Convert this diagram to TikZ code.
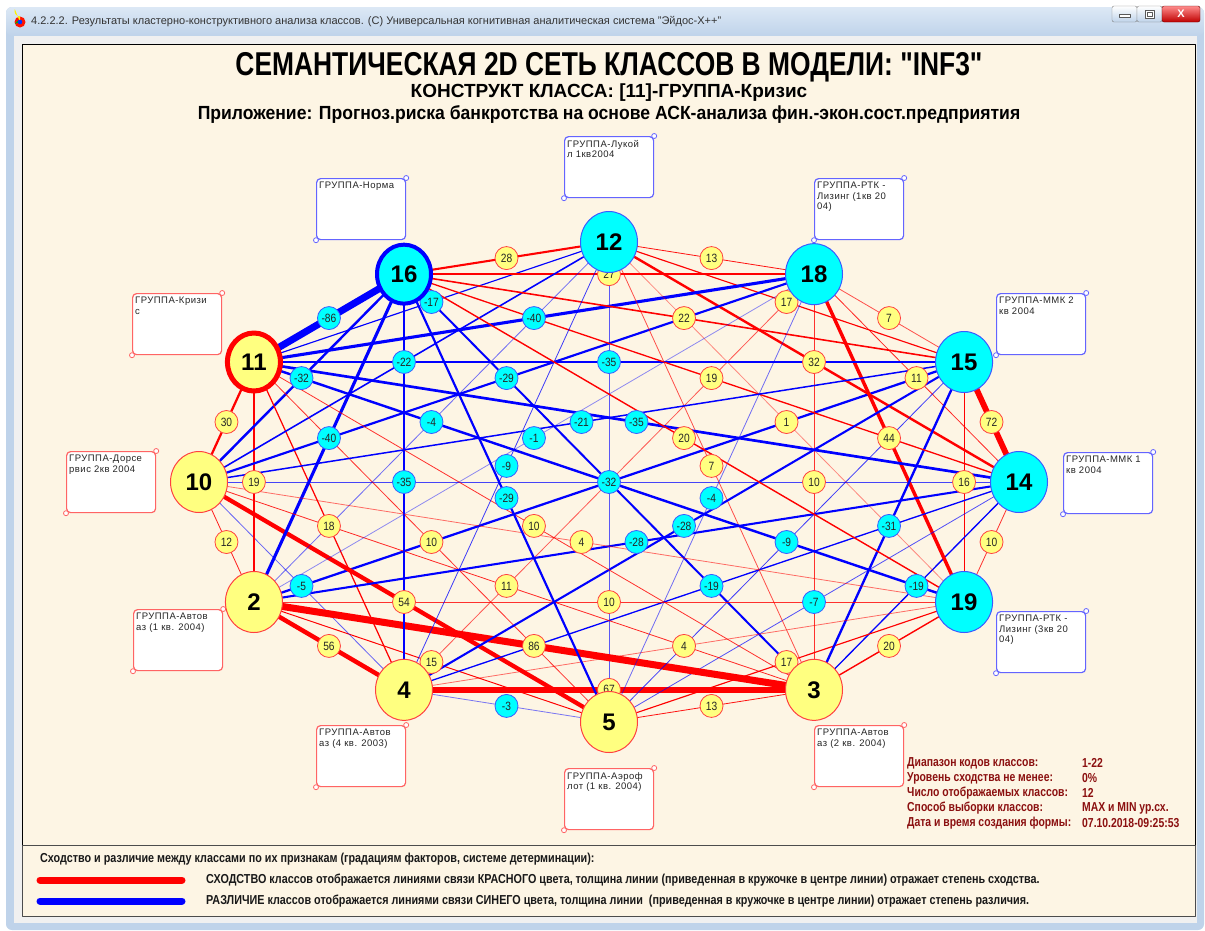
\documentclass[tikz,border=0pt]{standalone}
\usepackage{fontspec}
\setmainfont{Liberation Sans}
\newfontfamily\titlefont{Liberation Sans}[FakeStretch=0.8]
\newfontfamily\legfont{Liberation Sans}[FakeStretch=0.83]
\newfontfamily\condfont{Liberation Sans}[FakeStretch=0.85]
\newfontfamily\subfont{Liberation Sans}[FakeStretch=0.925]
\newfontfamily\boxfont{Liberation Sans}[LetterSpace=5]
\usetikzlibrary{shapes.geometric, calc}

\definecolor{panelbg}{HTML}{FDF5E4}
\definecolor{nodeyel}{HTML}{FFFF80}
\definecolor{nodecyan}{HTML}{00FFFF}
\definecolor{linkred}{HTML}{FF0000}
\definecolor{linkblue}{HTML}{0000FF}
\definecolor{rimred}{HTML}{FF4040}
\definecolor{rimblue}{HTML}{3A5BFF}
\definecolor{boxred}{HTML}{FF6464}
\definecolor{boxblue}{HTML}{6464FF}
\definecolor{infored}{HTML}{8B1010}
\definecolor{winframe}{HTML}{BFD3EA}
\definecolor{winlight}{HTML}{DCE8F5}
\definecolor{clientbg}{HTML}{F0F0F0}

\tikzset{
  cls/.style={ellipse, minimum width=57, minimum height=61, inner sep=0,
    line width=1, font=\fontsize{24}{24}\selectfont\bfseries},
  clsyel/.style={cls, fill=nodeyel, draw=rimred},
  clscyan/.style={cls, fill=nodecyan, draw=rimblue},
  lbl/.style={circle, minimum size=23, inner sep=0, line width=0.8,
    font=\condfont\fontsize{12}{12}\selectfont, text=black!85},
  boxframe/.style={draw, rounded corners=4, line width=1.2, fill=white,
    minimum width=89, minimum height=61, inner sep=0, anchor=north west},
  boxtext/.style={anchor=north west, inner sep=0, align=left,
    font=\boxfont\fontsize{9.5}{10.5}\selectfont, text=black!85},
  cornerdot/.style={circle, draw, fill=white, line width=0.8, minimum size=5, inner sep=0},
  infotxt/.style={anchor=west, inner sep=0, text=infored,
    font=\titlefont\bfseries\fontsize{13}{13}\selectfont},
  legendtxt/.style={anchor=west, inner sep=0, text=black!90,
    font=\legfont\bfseries\fontsize{13}{13}\selectfont}
}

% name, x, y, colour, text
\newcommand{\classbox}[5]{%
  \node[boxframe, draw=#4] (b#1) at (#2,#3) {};
  \node[boxtext] at ($(b#1.north west)+(3,4)$) {#5};
  \node[cornerdot, draw=#4] at (b#1.north east) {};
  \node[cornerdot, draw=#4] at (b#1.south west) {};
}

% pairs of classes and their similarity
\def\links{c12/c18/13, c18/c15/7, c15/c14/72, c14/c19/10, c19/c3/20, c3/c5/13,
  c5/c4/-3, c4/c2/56, c2/c10/12, c10/c11/30, c11/c16/-86, c16/c12/28,
  c12/c15/17, c18/c14/11, c15/c19/16, c14/c3/-19, c19/c5/17, c3/c4/67,
  c5/c2/15, c4/c10/-5, c2/c11/19, c10/c16/-32, c11/c12/-17, c16/c18/27,
  c12/c14/32, c18/c19/44, c15/c3/-31, c14/c5/-7, c19/c4/4, c3/c2/86,
  c5/c10/54, c4/c11/18, c2/c16/-40, c10/c12/-22, c11/c18/-40, c16/c15/22,
  c12/c19/1, c18/c3/10, c15/c5/-9, c14/c4/-19, c19/c2/10, c3/c10/11,
  c5/c11/10, c4/c16/-35, c2/c12/-4, c10/c18/-29, c11/c15/-35, c16/c14/19,
  c12/c3/7, c18/c5/-4, c15/c4/-28, c14/c2/-28, c19/c10/4, c3/c11/10,
  c5/c16/-29, c4/c12/-9, c2/c18/-1, c10/c15/-21, c11/c14/-35, c16/c19/20,
  c11/c19/-32}
% links through the centre, their circles hidden under -32
\def\crosslinks{c12/c5/-6, c14/c10/-8, c18/c4/6, c16/c3/-27, c15/c2/-30}

\begin{document}
\begin{tikzpicture}[x=1pt,y=-1pt,line cap=round,line join=round]
\useasboundingbox (0,0) rectangle (1205,930);

% window
\fill[white] (0,0) rectangle (1205,930);
\fill[winframe, rounded corners=6] (6,7) rectangle (1204,930);
\shade[top color=winlight, bottom color=winframe, rounded corners=6] (6,7) rectangle (1204,36);
\fill[clientbg] (14,36) rectangle (1197,923);
\filldraw[fill=panelbg, draw=black] (22,44) rectangle (1195,845);
\filldraw[fill=panelbg, draw=black!70] (22,845) rectangle (1195,916);

\fill[red!85!orange] (20,22) circle (5.5);
\fill[yellow] (20,22) -- ++(0,-5.5) arc (90:200:5.5) -- cycle;
\fill[green!70!black] (20,22) -- ++(-5.2,1.9) arc (200:280:5.5) -- cycle;
\fill[blue!80!cyan] (20,22) circle (2.3);
\node[anchor=west, inner sep=0, font=\fontsize{11}{11}\selectfont, text=black!80] (wintitle) at (31,22)
  {4.2.2.2. Результаты кластерно-конструктивного анализа классов. (С) Универсальная когнитивная аналитическая система "Эйдос-Х++"};

\shadedraw[top color=white, bottom color=winframe, draw=gray, rounded corners=2] (1112,6) rectangle (1137,22);
\shadedraw[top color=white, bottom color=winframe, draw=gray, rounded corners=2] (1137,6) rectangle (1162,22);
\shadedraw[top color=red!45!white, bottom color=red!75!black, draw=red!40!black, rounded corners=2] (1162,6) rectangle (1200,22);
\filldraw[fill=white, draw=gray!70!black] (1119,14) rectangle (1130,17);
\filldraw[fill=white, draw=gray!70!black] (1145,10) rectangle (1154,18);
\draw[gray!70!black] (1147,12) rectangle (1152,16);
\node[font=\bfseries\fontsize{11}{11}\selectfont, text=white] (closex) at (1181,14) {X};

% titles
\node[font=\titlefont\bfseries\fontsize{33}{33}\selectfont] (title) at (609,67)
  {СЕМАНТИЧЕСКАЯ 2D СЕТЬ КЛАССОВ В МОДЕЛИ: "INF3"};
\node[font=\bfseries\fontsize{19}{19}\selectfont] (construct) at (609,93)
  {КОНСТРУКТ КЛАССА: [11]-ГРУППА-Кризис};
\node[font=\subfont\bfseries\fontsize{19}{19}\selectfont] (appl) at (609,114)
  {Приложение: Прогноз.риска банкротства на основе АСК-анализа фин.-экон.сост.предприятия};

% classes on an ellipse
\foreach \n [count=\k from 0] in {12,18,15,14,19,3,5,4,2,10,11,16}
  \coordinate (c\n) at ({609+410*cos(90-30*\k)}, {482-240*sin(90-30*\k)});

% name boxes
\classbox{12}{564}{136}{boxblue}{ГРУППА-Лукой\\л 1кв2004}
\classbox{16}{316}{178}{boxblue}{ГРУППА-Норма}
\classbox{18}{814}{178}{boxblue}{ГРУППА-РТК -\\Лизинг (1кв 20\\04)}
\classbox{15}{996}{293}{boxblue}{ГРУППА-ММК 2\\кв 2004}
\classbox{14}{1063}{452}{boxblue}{ГРУППА-ММК 1\\кв 2004}
\classbox{19}{996}{611}{boxblue}{ГРУППА-РТК -\\Лизинг (3кв 20\\04)}
\classbox{3}{814}{725}{boxred}{ГРУППА-Автов\\аз (2 кв. 2004)}
\classbox{5}{564}{768}{boxred}{ГРУППА-Аэроф\\лот (1 кв. 2004)}
\classbox{4}{316}{725}{boxred}{ГРУППА-Автов\\аз (4 кв. 2003)}
\classbox{2}{133}{609}{boxred}{ГРУППА-Автов\\аз (1 кв. 2004)}
\classbox{10}{66}{451}{boxred}{ГРУППА-Дорсе\\рвис 2кв 2004}
\classbox{11}{132}{293}{boxred}{ГРУППА-Кризи\\с}

% links
\foreach \a/\b/\v in \crosslinks {
  \pgfmathsetmacro\lw{max(0.8,0.085*abs(\v)-0.3)}
  \pgfmathsetmacro\op{min(1,0.4+abs(\v)/25)}
  \ifnum\v>0 \def\lc{linkred}\else\def\lc{linkblue}\fi
  \draw[draw=\lc, line width=\lw, draw opacity=\op] (\a) -- (\b);
}
\foreach \a/\b/\v in \links {
  \pgfmathsetmacro\lw{max(0.8,0.085*abs(\v)-0.3)}
  \pgfmathsetmacro\op{min(1,0.4+abs(\v)/25)}
  \ifnum\v>0 \def\lc{linkred}\else\def\lc{linkblue}\fi
  \draw[draw=\lc, line width=\lw, draw opacity=\op] (\a) -- (\b);
}
\foreach \a/\b/\v in \links {
  \ifnum\v>0 \def\lc{rimred}\def\lf{nodeyel}\else\def\lc{rimblue}\def\lf{nodecyan}\fi
  \path (\a) -- (\b) node[midway, lbl, draw=\lc, fill=\lf] {\v};
}

% classes
\node[clscyan] (n12) at (c12) {12};
\node[clscyan] (n18) at (c18) {18};
\node[clscyan] (n15) at (c15) {15};
\node[clscyan] (n14) at (c14) {14};
\node[clscyan] (n19) at (c19) {19};
\node[clsyel] (n3) at (c3) {3};
\node[clsyel] (n5) at (c5) {5};
\node[clsyel] (n4) at (c4) {4};
\node[clsyel] (n2) at (c2) {2};
\node[clsyel] (n10) at (c10) {10};
\node[clsyel, draw=linkred, line width=5, minimum width=53, minimum height=58] (n11) at (c11) {11};
\node[clscyan, draw=linkblue, line width=4, minimum width=54, minimum height=59] (n16) at (c16) {16};

% model info
\foreach \t/\u [count=\k from 0] in {Диапазон кодов классов:/1-22,
    Уровень сходства не менее:/0\%, Число отображаемых классов:/12,
    Способ выборки классов:/MAX и MIN ур.сх., Дата и время создания формы:/07.10.2018-09:25:53} {
  \node[infotxt] at (907, {763+15*\k}) {\t};
  \node[infotxt] at (1082, {763+15*\k}) {\u};
}

% legend
\node[legendtxt] (leghead) at (40,859)
  {Сходство и различие между классами по их признакам (градациям факторов, системе детерминации):};
\draw[linkred, line width=7] (40,880) -- (182,880);
\draw[linkblue, line width=7] (40,901) -- (182,901);
\node[legendtxt] (legsim) at (206,880)
  {СХОДСТВО классов отображается линиями связи КРАСНОГО цвета, толщина линии (приведенная в кружочке в центре линии) отражает степень сходства.};
\node[legendtxt] (legdif) at (206,901)
  {РАЗЛИЧИЕ классов отображается линиями связи СИНЕГО цвета, толщина линии\ \ (приведенная в кружочке в центре линии) отражает степень различия.};

\end{tikzpicture}
\end{document}
